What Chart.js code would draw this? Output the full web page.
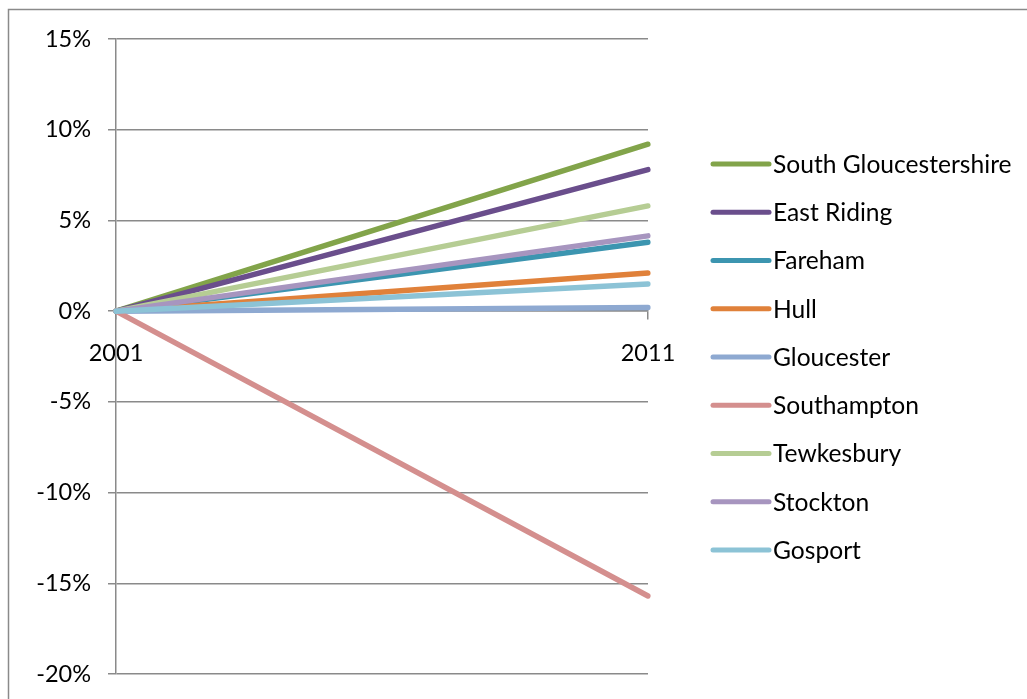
<!DOCTYPE html>
<html>
<head>
<meta charset="utf-8">
<title>Population change 2001–2011</title>
<script src="https://cdn.jsdelivr.net/npm/chart.js@4/dist/chart.umd.min.js"></script>
<style>
  html, body { margin: 0; padding: 0; background: #ffffff; }
  #wrap { width: 1027px; height: 699px; position: relative; }
</style>
</head>
<body>
<div id="wrap"><canvas id="chart" width="1027" height="699"></canvas></div>
<script>
// Census years on the category axis
const years = ['2001', '2011'];

// Percentage change since 2001 for each area
const southGloucestershire = [0, 9.2];
const eastRiding = [0, 7.8];
const fareham = [0, 3.8];
const hull = [0, 2.1];
const gloucester = [0, 0.2];
const southampton = [0, -15.7];
const tewkesbury = [0, 5.8];
const stockton = [0, 4.15];
const gosport = [0, 1.5];

const areaNames = ['South Gloucestershire', 'East Riding', 'Fareham', 'Hull', 'Gloucester',
                   'Southampton', 'Tewkesbury', 'Stockton', 'Gosport'];
const areaValues = [southGloucestershire, eastRiding, fareham, hull, gloucester,
                    southampton, tewkesbury, stockton, gosport];
const areaColours = ['#82A44A', '#6A4E8C', '#3C95B0', '#E0813A', '#8EA9D1',
                     '#D48F8E', '#B6CD94', '#A795BF', '#8CC3D6'];

// Y axis ticks
const yMin = -20, yMax = 15, yStep = 5;

const FONT = 'Lato, "Liberation Sans", sans-serif';
const AXIS_SIZE = 23.5;
const LEGEND_SIZE = 24.6;
const GRID = '#8a8a8a';

const datasets = areaNames.map((name, i) => ({
  label: name,
  data: areaValues[i],
  borderColor: areaColours[i],
  backgroundColor: areaColours[i],
  borderWidth: 5.5,
  borderCapStyle: 'round',
  pointRadius: 0,
  pointHoverRadius: 0,
  tension: 0,
  fill: false,
  // later series are painted over earlier ones
  order: areaNames.length - i
}));

// Outer frame of the chart object
const framePlugin = {
  id: 'frame',
  beforeDraw(chart) {
    const ctx = chart.ctx;
    ctx.save();
    ctx.fillStyle = '#ffffff';
    ctx.fillRect(0, 0, chart.width, chart.height);
    ctx.strokeStyle = GRID;
    ctx.lineWidth = 1.5;
    ctx.beginPath();
    ctx.moveTo(8.5, chart.height);
    ctx.lineTo(8.5, 9.5);
    ctx.lineTo(chart.width, 9.5);
    ctx.stroke();
    ctx.restore();
  }
};

// Legend to the right: a short line sample and the area name per row
const sideLegend = {
  id: 'sideLegend',
  afterDraw(chart) {
    const ctx = chart.ctx;
    const x0 = 713, x1 = 769, tx = 773, top = 164, rowGap = 48.25;
    ctx.save();
    ctx.font = LEGEND_SIZE + 'px ' + FONT;
    ctx.textBaseline = 'middle';
    ctx.textAlign = 'left';
    chart.data.datasets.forEach((ds, i) => {
      const y = top + i * rowGap;
      ctx.strokeStyle = ds.borderColor;
      ctx.lineWidth = 5;
      ctx.lineCap = 'round';
      ctx.beginPath();
      ctx.moveTo(x0, y);
      ctx.lineTo(x1, y);
      ctx.stroke();
      ctx.fillStyle = '#000000';
      ctx.fillText(ds.label, tx, y + 1);
    });
    ctx.restore();
  }
};

new Chart(document.getElementById('chart'), {
  type: 'line',
  data: { labels: years, datasets },
  plugins: [framePlugin, sideLegend],
  options: {
    responsive: false,
    animation: false,
    devicePixelRatio: 1,
    layout: { padding: { left: 0, top: 39, right: 379, bottom: 25 } },
    plugins: {
      legend: { display: false },
      tooltip: { enabled: false },
      title: { display: false }
    },
    scales: {
      x: {
        type: 'category',
        position: { y: 0 },
        offset: false,
        grid: { display: true, drawOnChartArea: false, drawTicks: true, tickLength: 8,
                color: GRID, lineWidth: 1.5 },
        border: { display: true, color: GRID, width: 1.5 },
        ticks: { color: '#000000', padding: 20, maxRotation: 0,
                 font: { family: FONT, size: AXIS_SIZE } }
      },
      y: {
        min: yMin,
        max: yMax,
        afterFit(scale) {
          scale.width = 116;
          // the outer padding already leaves room for the end labels
          scale.paddingTop = 0;
          scale.paddingBottom = 0;
        },
        grid: { color: GRID, lineWidth: 1.5, drawTicks: true, tickLength: 8 },
        border: { display: true, color: GRID, width: 1.5 },
        ticks: {
          stepSize: yStep,
          color: '#000000',
          padding: 17,
          font: { family: FONT, size: AXIS_SIZE },
          callback: v => v + '%'
        }
      }
    }
  }
});
</script>
</body>
</html>
